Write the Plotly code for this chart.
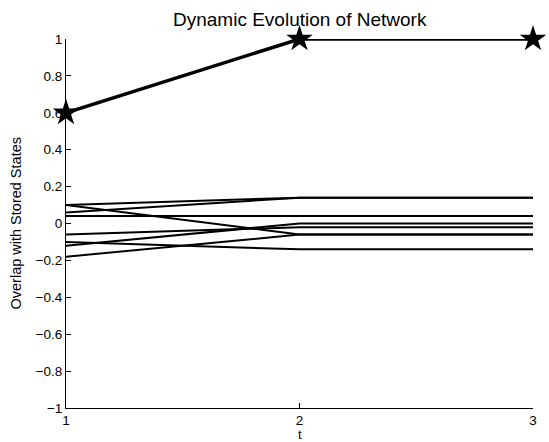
import plotly.graph_objects as go

# Data
t = [1, 2, 3]
stored_overlap = [0.6, 1.0, 1.0]
other_overlaps = [
    [0.10, 0.14, 0.14],
    [0.10, -0.06, -0.06],
    [0.06, 0.14, 0.14],
    [0.04, 0.04, 0.04],
    [-0.06, -0.02, -0.02],
    [-0.10, -0.14, -0.14],
    [-0.12, 0.00, 0.00],
    [-0.18, -0.06, -0.06],
]
ytick_vals = [1, 0.8, 0.6, 0.4, 0.2, 0, -0.2, -0.4, -0.6, -0.8, -1]
ytick_text = ["1", "0.8", "0.6", "0.4", "0.2", "0", "\u22120.2", "\u22120.4", "\u22120.6", "\u22120.8", "\u22121"]
xtick_vals = [1, 2, 3]
xtick_text = ["1", "2", "3"]

FONT = "Liberation Sans, Arial, Helvetica, sans-serif"

fig = go.Figure()
for ys in other_overlaps:
    fig.add_trace(go.Scatter(x=t, y=ys, mode="lines",
                             line=dict(color="black", width=2),
                             showlegend=False, cliponaxis=False))
fig.add_trace(go.Scatter(x=t, y=stored_overlap, mode="lines+markers",
                         line=dict(color="black", width=3.5),
                         marker=dict(symbol="star", size=20, color="black"),
                         showlegend=False, cliponaxis=False))

fig.update_layout(
    width=549, height=442,
    margin=dict(l=66, r=12, t=39, b=34),
    paper_bgcolor="white", plot_bgcolor="white",
    font=dict(family=FONT, size=13.5, color="black"),
    xaxis=dict(range=[1, 3], tickvals=xtick_vals, ticktext=xtick_text,
               ticks="inside", ticklen=5, tickcolor="black", tickwidth=1,
               showline=True, linecolor="black", linewidth=1,
               showgrid=False, zeroline=False, fixedrange=True),
    yaxis=dict(range=[-1, 1], tickvals=ytick_vals, ticktext=ytick_text,
               ticks="inside", ticklen=5, tickcolor="black", tickwidth=1,
               showline=True, linecolor="black", linewidth=1,
               showgrid=False, zeroline=False, fixedrange=True),
    annotations=[
        dict(text="Dynamic Evolution of Network", xref="paper", yref="paper",
             x=0.5, y=1, xanchor="center", yanchor="middle", yshift=20,
             showarrow=False, font=dict(size=19, family=FONT)),
        dict(text="Overlap with Stored States", xref="paper", yref="paper",
             x=0, y=0.5, xanchor="center", yanchor="middle", xshift=-51,
             textangle=-90, showarrow=False, font=dict(size=14.5, family=FONT)),
        dict(text="t", xref="paper", yref="paper",
             x=0.5, y=0, xanchor="center", yanchor="top", yshift=-17,
             showarrow=False, font=dict(size=13, family=FONT)),
    ],
)

fig.write_html("out.html")
